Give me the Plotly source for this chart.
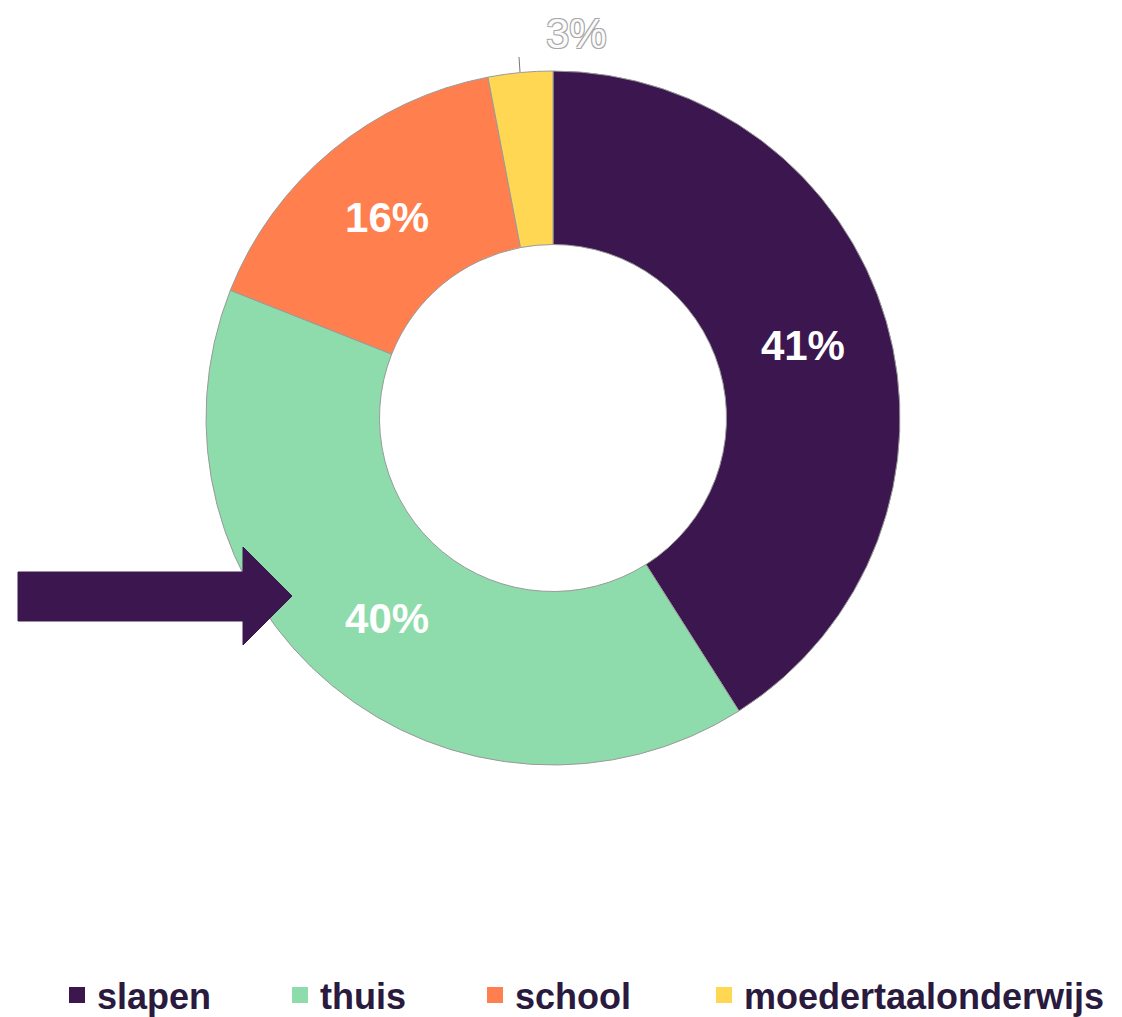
import plotly.graph_objects as go

# ---- data ----
categories = ["slapen", "thuis", "school", "moedertaalonderwijs"]
values = [41, 40, 16, 3]
colors = ["#3c174f", "#8edcab", "#ff7f4e", "#ffd753"]

W, H = 1122, 1017


def px(x):
    return x / W


def py(y):
    return 1 - y / H


fig = go.Figure()
fig.add_trace(go.Pie(
    labels=categories,
    values=values,
    sort=False,
    direction="clockwise",
    rotation=0,
    hole=0.5,
    marker=dict(colors=colors, line=dict(color="#9a9a9a", width=1)),
    texttemplate="%{percent:.0%}",
    textposition=["inside", "inside", "inside", "none"],
    insidetextorientation="horizontal",
    insidetextfont=dict(family="Liberation Sans", size=42, color="white", weight="bold"),
    domain=dict(x=[px(206), px(900)], y=[py(765), py(71)]),
    hoverinfo="label+percent",
    showlegend=False,
))

# legend entries (one per category, same colours as the slices)
legend_widths = [178, 150, 184, None]
for cat, col, lw in zip(categories, colors, legend_widths):
    fig.add_trace(go.Scatter(
        x=[None], y=[None], mode="markers", name=cat,
        marker=dict(symbol="square", size=18, color=col, line=dict(width=0)),
        legendwidth=lw, hoverinfo="skip",
    ))

# outside label for the smallest slice
fig.add_annotation(
    x=px(576), y=py(33), xref="paper", yref="paper",
    xanchor="center", yanchor="middle",
    text=f"{values[3]}%", showarrow=False,
    font=dict(family="Liberation Sans", size=42, color="#fbfbfb",
              shadow="1px 1px 0 #a8a8a8, -1px -1px 0 #a8a8a8, 1px -1px 0 #a8a8a8, -1px 1px 0 #a8a8a8"),
)
fig.add_shape(type="line", xref="paper", yref="paper",
              x0=px(519), y0=py(57), x1=px(520), y1=py(72),
              line=dict(color="#777777", width=1))

# arrow pointing at the 'thuis' slice
arrow_pts = [(18, 572), (243, 572), (243, 547), (292, 596), (243, 645), (243, 621), (18, 621)]
path = "M " + " L ".join(f"{px(x)},{py(y)}" for x, y in arrow_pts) + " Z"
fig.add_shape(type="path", xref="paper", yref="paper", path=path,
              fillcolor="#3c174f", line=dict(color="#3c174f", width=1))

fig.update_layout(
    width=W, height=H,
    margin=dict(l=0, r=0, t=0, b=0, autoexpand=False),
    paper_bgcolor="white",
    plot_bgcolor="white",
    xaxis=dict(visible=False),
    yaxis=dict(visible=False),
    showlegend=True,
    legend=dict(
        orientation="h",
        x=px(57), xanchor="left",
        y=-0.008, yanchor="bottom",
        font=dict(family="Liberation Sans", size=36, color="#2a1a3e", weight="bold"),
        bgcolor="rgba(0,0,0,0)",
        traceorder="normal",
        itemclick=False, itemdoubleclick=False,
    ),
)

fig.write_html("out.html", config={"displayModeBar": False},
               post_script="document.body.style.margin='0';")
